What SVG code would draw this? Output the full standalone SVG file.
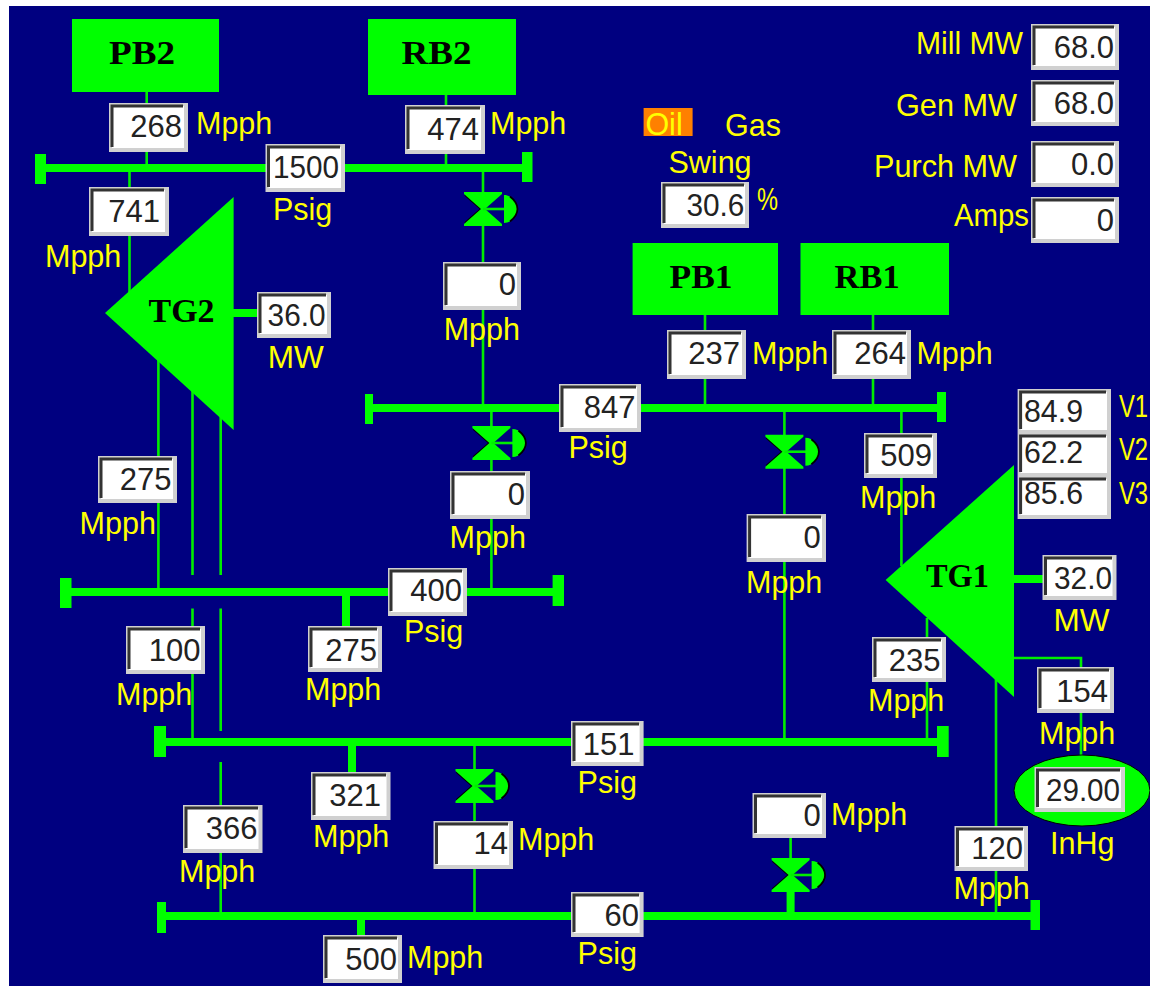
<svg xmlns="http://www.w3.org/2000/svg" xmlns:xlink="http://www.w3.org/1999/xlink" width="1150" height="986" viewBox="0 0 1150 986">
<style>
.g{fill:#00ff00}
.tl{stroke:#00ee00;stroke-width:2.6;fill:none}
.hd{stroke:#00ff00;stroke-width:8;fill:none}
.o{fill:#d0d0d0}
.w{fill:#fff}
.s{stroke:#333;stroke-width:3;fill:none}
.v{font:31px "Liberation Sans",Arial,sans-serif;fill:#222;text-anchor:end;transform:translateY(1.500px)}
.vl{text-anchor:start}
.u{font:30.500px "Liberation Sans",Arial,sans-serif;fill:#ffff00;transform:translateY(1px)}
.n{font:bold 34px "Liberation Serif","Times New Roman",serif;fill:#000}
</style>
<defs>
<g id="valve">
<path d="M-18,-14L-2,0 -18,14" fill="none" stroke="#000" stroke-width="2"/>
<path class="g" d="M-19,-17H19V-15L2,0 19,15V17H-19V15L-2,0 -19,-15Z"/>
<path class="tl" d="M0,0H24"/>
<path class="g" d="M21,-14C29,-14 34,-6 34,0C34,6 29,14 21,14Z"/>
<path d="M27,-12.500C31.500,-9 34.500,-5 34.500,0C34.500,5 31.500,9 27,12.500" fill="none" stroke="#000" stroke-width="1.800"/>
</g>
</defs>
<rect width="1150" height="986" fill="#fff"/>
<rect x="9" y="6" width="1141" height="980" fill="#000080"/>

<g id="connectors">
<path class="tl" d="M146.700,92V168M446,95V168M129.500,168V292M483,168V408M491.400,408V592M158.400,360V592M192.500,388V575M192.500,608.500V742M220.700,416V575M220.700,608.500V731M220.700,762V916M474.500,742V916M705,315V408M873,315V408M784.400,408V742M901.400,408V566M927,618V742M996,678V916M1014,658H1081V757M790.600,838V892"/>
<path class="hd" d="M40,168H527M369,408H941M66,592H558M160,742H943M161,916H1035M346,592V626M352,742V772M361,916V936M233,313H258M1014,579H1043M790.600,892V916"/>
<path class="g" d="M35,154h11v30h-11zM522,152h10.500v30h-10.500zM365,394h8v30h-8zM937,392h9v30h-9zM60,578h11.500v30h-11.500zM552.600,575h11.400v31h-11.400zM154,726h12v31h-12zM937,726h11.700v31h-11.700zM157,902h9v31h-9zM1030.500,900h9.500v30h-9.500z"/>
<use xlink:href="#valve" href="#valve" x="483" y="209"/>
<use xlink:href="#valve" href="#valve" x="491.400" y="443"/>
<use xlink:href="#valve" href="#valve" x="784.400" y="451.700"/>
<use xlink:href="#valve" href="#valve" x="474.500" y="786"/>
<use xlink:href="#valve" href="#valve" x="790.600" y="875"/>
</g>

<g id="PB2"><rect class="g" x="72" y="19" width="147" height="73"/><text class="n" x="109" y="64" textLength="66" lengthAdjust="spacingAndGlyphs">PB2</text></g>
<g id="RB2"><rect class="g" x="368" y="19" width="148" height="76"/><text class="n" x="401.500" y="64" textLength="70" lengthAdjust="spacingAndGlyphs">RB2</text></g>
<g id="PB1"><rect class="g" x="632.600" y="243" width="145.400" height="72"/><text class="n" x="669.600" y="288" textLength="63" lengthAdjust="spacingAndGlyphs">PB1</text></g>
<g id="RB1"><rect class="g" x="800.500" y="243" width="148.500" height="72"/><text class="n" x="834.600" y="288" textLength="65" lengthAdjust="spacingAndGlyphs">RB1</text></g>
<g id="TG2"><polygon class="g" points="105,313 233.600,197 233.600,430"/><text class="n" x="148.500" y="322" textLength="66" lengthAdjust="spacingAndGlyphs">TG2</text></g>
<g id="TG1"><polygon class="g" points="885.600,580 1014,465 1014,697"/><text class="n" x="926" y="587" textLength="63" lengthAdjust="spacingAndGlyphs">TG1</text></g>
<g id="condenser"><ellipse class="g" cx="1082" cy="790.500" rx="68" ry="35.500" stroke="#000" stroke-width="1"/></g>

<g id="mpph-268"><rect class="o" x="109" y="103" width="79" height="49"/><rect class="w" x="112" y="106" width="72" height="42"/><path class="s" d="M112,147V106H183"/><text class="v" x="182" y="135">268</text><text class="u" x="196" y="133">Mpph</text></g>
<g id="mpph-474"><rect class="o" x="405" y="105" width="80" height="49"/><rect class="w" x="408" y="108" width="73" height="42"/><path class="s" d="M408,149V108H480"/><text class="v" x="479" y="138">474</text><text class="u" x="490" y="133">Mpph</text></g>
<g id="psig-1500"><rect class="o" x="265.500" y="144" width="79.500" height="48"/><rect class="w" x="268.500" y="147" width="72.500" height="41"/><path class="s" d="M268.500,187V147H340"/><text class="v" x="339" y="176.700" textLength="66" lengthAdjust="spacingAndGlyphs">1500</text><text class="u" x="273" y="219">Psig</text></g>
<g id="mpph-741"><rect class="o" x="89" y="187" width="80" height="49"/><rect class="w" x="92" y="190" width="73" height="42"/><path class="s" d="M92,231V190H164"/><text class="v" x="160" y="220">741</text><text class="u" x="45" y="265.700">Mpph</text></g>
<g id="mpph-0a"><rect class="o" x="443" y="262" width="78" height="48"/><rect class="w" x="446" y="265" width="71" height="41"/><path class="s" d="M446,305V265H516"/><text class="v" x="516" y="293">0</text><text class="u" x="443.700" y="339">Mpph</text></g>
<g id="mw-tg2"><rect class="o" x="257" y="292" width="74" height="46"/><rect class="w" x="260" y="295" width="67" height="39"/><path class="s" d="M260,333V295H326"/><text class="v" x="325.600" y="324" textLength="58" lengthAdjust="spacingAndGlyphs">36.0</text><text class="u" x="267.700" y="367" textLength="56" lengthAdjust="spacingAndGlyphs">MW</text></g>
<g id="mpph-275a"><rect class="o" x="98" y="456" width="79" height="47"/><rect class="w" x="101" y="459" width="72" height="40"/><path class="s" d="M101,498V459H172"/><text class="v" x="171.600" y="488">275</text><text class="u" x="79.600" y="533">Mpph</text></g>
<g id="mpph-0b"><rect class="o" x="450" y="471" width="80" height="48"/><rect class="w" x="453" y="474" width="73" height="41"/><path class="s" d="M453,514V474H525"/><text class="v" x="525" y="503">0</text><text class="u" x="449.600" y="546.700">Mpph</text></g>
<g id="psig-847"><rect class="o" x="559" y="384" width="82" height="48"/><rect class="w" x="562" y="387" width="75" height="41"/><path class="s" d="M562,427V387H636"/><text class="v" x="635.500" y="416">847</text><text class="u" x="568.400" y="456.700">Psig</text></g>
<g id="fuel"><rect x="643.600" y="108" width="49" height="28" fill="#ff8000"/><text class="u" x="645.400" y="134">Oil</text><text class="u" x="725" y="135">Gas</text></g>
<g id="swing"><text class="u" x="668.500" y="171.700">Swing</text><rect class="o" x="661" y="182" width="88" height="46"/><rect class="w" x="664" y="185" width="81" height="39"/><path class="s" d="M664,223V185H744"/><text class="v" x="744.400" y="214" textLength="58" lengthAdjust="spacingAndGlyphs">30.6</text><text class="u" x="757" y="209" textLength="21" lengthAdjust="spacingAndGlyphs">%</text></g>
<g id="mill-mw"><text class="u" x="916" y="53" textLength="107" lengthAdjust="spacingAndGlyphs">Mill MW</text><rect class="o" x="1031" y="24" width="88" height="46"/><rect class="w" x="1034" y="27" width="81" height="39"/><path class="s" d="M1034,65V27H1114"/><text class="v" x="1114" y="56">68.0</text></g>
<g id="gen-mw"><text class="u" x="896" y="115" textLength="121" lengthAdjust="spacingAndGlyphs">Gen MW</text><rect class="o" x="1031" y="80" width="88" height="46"/><rect class="w" x="1034" y="83" width="81" height="39"/><path class="s" d="M1034,121V83H1114"/><text class="v" x="1114" y="112.700">68.0</text></g>
<g id="purch-mw"><text class="u" x="874" y="176" textLength="143" lengthAdjust="spacingAndGlyphs">Purch MW</text><rect class="o" x="1031" y="141" width="88" height="46"/><rect class="w" x="1034" y="144" width="81" height="39"/><path class="s" d="M1034,182V144H1114"/><text class="v" x="1114" y="173">0.0</text></g>
<g id="amps"><text class="u" x="954" y="225" textLength="75" lengthAdjust="spacingAndGlyphs">Amps</text><rect class="o" x="1031" y="197" width="88" height="46"/><rect class="w" x="1034" y="200" width="81" height="39"/><path class="s" d="M1034,238V200H1114"/><text class="v" x="1114" y="229">0</text></g>
<g id="mpph-237"><rect class="o" x="667" y="330" width="79" height="49"/><rect class="w" x="670" y="333" width="72" height="42"/><path class="s" d="M670,374V333H741"/><text class="v" x="740" y="362.700">237</text><text class="u" x="752" y="362.700">Mpph</text></g>
<g id="mpph-264"><rect class="o" x="832" y="330" width="79" height="49"/><rect class="w" x="835" y="333" width="72" height="42"/><path class="s" d="M835,374V333H906"/><text class="v" x="906" y="362.700">264</text><text class="u" x="916.400" y="362.700">Mpph</text></g>
<g id="mpph-509"><rect class="o" x="864" y="433" width="73" height="45"/><rect class="w" x="867" y="436" width="66" height="38"/><path class="s" d="M867,473V436H932"/><text class="v" x="932" y="464">509</text><text class="u" x="860" y="507">Mpph</text></g>
<g id="v1"><rect class="o" x="1017.600" y="389" width="93.400" height="44"/><rect class="w" x="1020.600" y="392" width="86.400" height="38"/><path class="s" d="M1020.600,429V392H1106"/><text class="v vl" x="1024" y="420.700" textLength="59" lengthAdjust="spacingAndGlyphs">84.9</text><g transform="translate(1119 416) scale(.78 1)"><text class="u">V1</text></g></g>
<g id="v2"><rect class="o" x="1017.600" y="433" width="93.400" height="43"/><rect class="w" x="1020.600" y="436" width="86.400" height="37"/><path class="s" d="M1020.600,472V436H1106"/><text class="v vl" x="1024" y="461.700" textLength="59" lengthAdjust="spacingAndGlyphs">62.2</text><g transform="translate(1119 459) scale(.78 1)"><text class="u">V2</text></g></g>
<g id="v3"><rect class="o" x="1017.600" y="476" width="93.400" height="43"/><rect class="w" x="1020.600" y="479" width="86.400" height="36"/><path class="s" d="M1020.600,514V479H1106"/><text class="v vl" x="1024" y="502.700" textLength="59" lengthAdjust="spacingAndGlyphs">85.6</text><g transform="translate(1119 503) scale(.78 1)"><text class="u">V3</text></g></g>
<g id="mpph-100"><rect class="o" x="126" y="626" width="79" height="48"/><rect class="w" x="129" y="629" width="72" height="41"/><path class="s" d="M129,669V629H200"/><text class="v" x="200.600" y="659">100</text><text class="u" x="116" y="704">Mpph</text></g>
<g id="mpph-275b"><rect class="o" x="308" y="626" width="74" height="46"/><rect class="w" x="311" y="629" width="67" height="39"/><path class="s" d="M311,667V629H377"/><text class="v" x="377" y="659">275</text><text class="u" x="305" y="699">Mpph</text></g>
<g id="psig-400"><rect class="o" x="388" y="568" width="79" height="48"/><rect class="w" x="391" y="571" width="72" height="41"/><path class="s" d="M391,611V571H462"/><text class="v" x="462" y="599">400</text><text class="u" x="404" y="640.700">Psig</text></g>
<g id="mpph-321"><rect class="o" x="311" y="772" width="79.500" height="48"/><rect class="w" x="314" y="775" width="72.500" height="41"/><path class="s" d="M314,815V775H386"/><text class="v" x="381" y="804">321</text><text class="u" x="313" y="846">Mpph</text></g>
<g id="mpph-366"><rect class="o" x="183" y="805" width="79.500" height="48"/><rect class="w" x="186" y="808" width="72.500" height="41"/><path class="s" d="M186,848V808H258"/><text class="v" x="257.400" y="837.700">366</text><text class="u" x="179" y="880.700">Mpph</text></g>
<g id="mpph-14"><rect class="o" x="433.500" y="821" width="79.500" height="48"/><rect class="w" x="436.500" y="824" width="72.500" height="41"/><path class="s" d="M436.500,864V824H508"/><text class="v" x="508" y="852.700">14</text><text class="u" x="518" y="849">Mpph</text></g>
<g id="mpph-500"><rect class="o" x="323" y="935" width="79" height="48"/><rect class="w" x="326" y="938" width="72" height="41"/><path class="s" d="M326,978V938H397"/><text class="v" x="397" y="968">500</text><text class="u" x="407" y="967">Mpph</text></g>
<g id="mpph-0c"><rect class="o" x="746.600" y="514" width="79.400" height="48"/><rect class="w" x="749.600" y="517" width="72.400" height="41"/><path class="s" d="M749.600,557V517H821"/><text class="v" x="820.700" y="546.700">0</text><text class="u" x="746" y="591.700">Mpph</text></g>
<g id="psig-151"><rect class="o" x="571" y="721" width="72.600" height="45"/><rect class="w" x="574" y="724" width="65.600" height="38"/><path class="s" d="M574,761V724H639"/><text class="v" x="634.400" y="753">151</text><text class="u" x="577.600" y="791.700">Psig</text></g>
<g id="psig-60"><rect class="o" x="571" y="892" width="72.600" height="45"/><rect class="w" x="574" y="895" width="65.600" height="38"/><path class="s" d="M574,932V895H639"/><text class="v" x="639" y="924">60</text><text class="u" x="577.600" y="962.700">Psig</text></g>
<g id="mpph-0d"><rect class="o" x="752.500" y="793" width="73.500" height="45"/><rect class="w" x="755.500" y="796" width="66.500" height="38"/><path class="s" d="M755.500,833V796H821"/><text class="v" x="820.700" y="824">0</text><text class="u" x="831" y="824">Mpph</text></g>
<g id="mw-tg1"><rect class="o" x="1042.500" y="555" width="74" height="45"/><rect class="w" x="1045.500" y="558" width="67" height="38"/><path class="s" d="M1045.500,595V558H1112"/><text class="v" x="1112" y="587" textLength="58" lengthAdjust="spacingAndGlyphs">32.0</text><text class="u" x="1053.500" y="630" textLength="56" lengthAdjust="spacingAndGlyphs">MW</text></g>
<g id="mpph-235"><rect class="o" x="872" y="637" width="74" height="45"/><rect class="w" x="875" y="640" width="67" height="38"/><path class="s" d="M875,677V640H941"/><text class="v" x="940.600" y="669">235</text><text class="u" x="868" y="710">Mpph</text></g>
<g id="mpph-154"><rect class="o" x="1037" y="667" width="77" height="46"/><rect class="w" x="1040" y="670" width="70" height="39"/><path class="s" d="M1040,708V670H1109"/><text class="v" x="1108" y="700">154</text><text class="u" x="1039" y="743">Mpph</text></g>
<g id="mpph-120"><rect class="o" x="954.500" y="826" width="73.500" height="45"/><rect class="w" x="957.500" y="829" width="66.500" height="38"/><path class="s" d="M957.500,866V829H1023"/><text class="v" x="1023" y="857.700">120</text><text class="u" x="953.400" y="898">Mpph</text></g>
<g id="inhg"><rect class="o" x="1034.500" y="767" width="90.500" height="45"/><rect class="w" x="1037.500" y="770" width="83.500" height="38"/><path class="s" d="M1037.500,807V770H1120"/><text class="v" x="1120" y="799" textLength="74" lengthAdjust="spacingAndGlyphs">29.00</text><text class="u" x="1050" y="853">InHg</text></g>
</svg>
